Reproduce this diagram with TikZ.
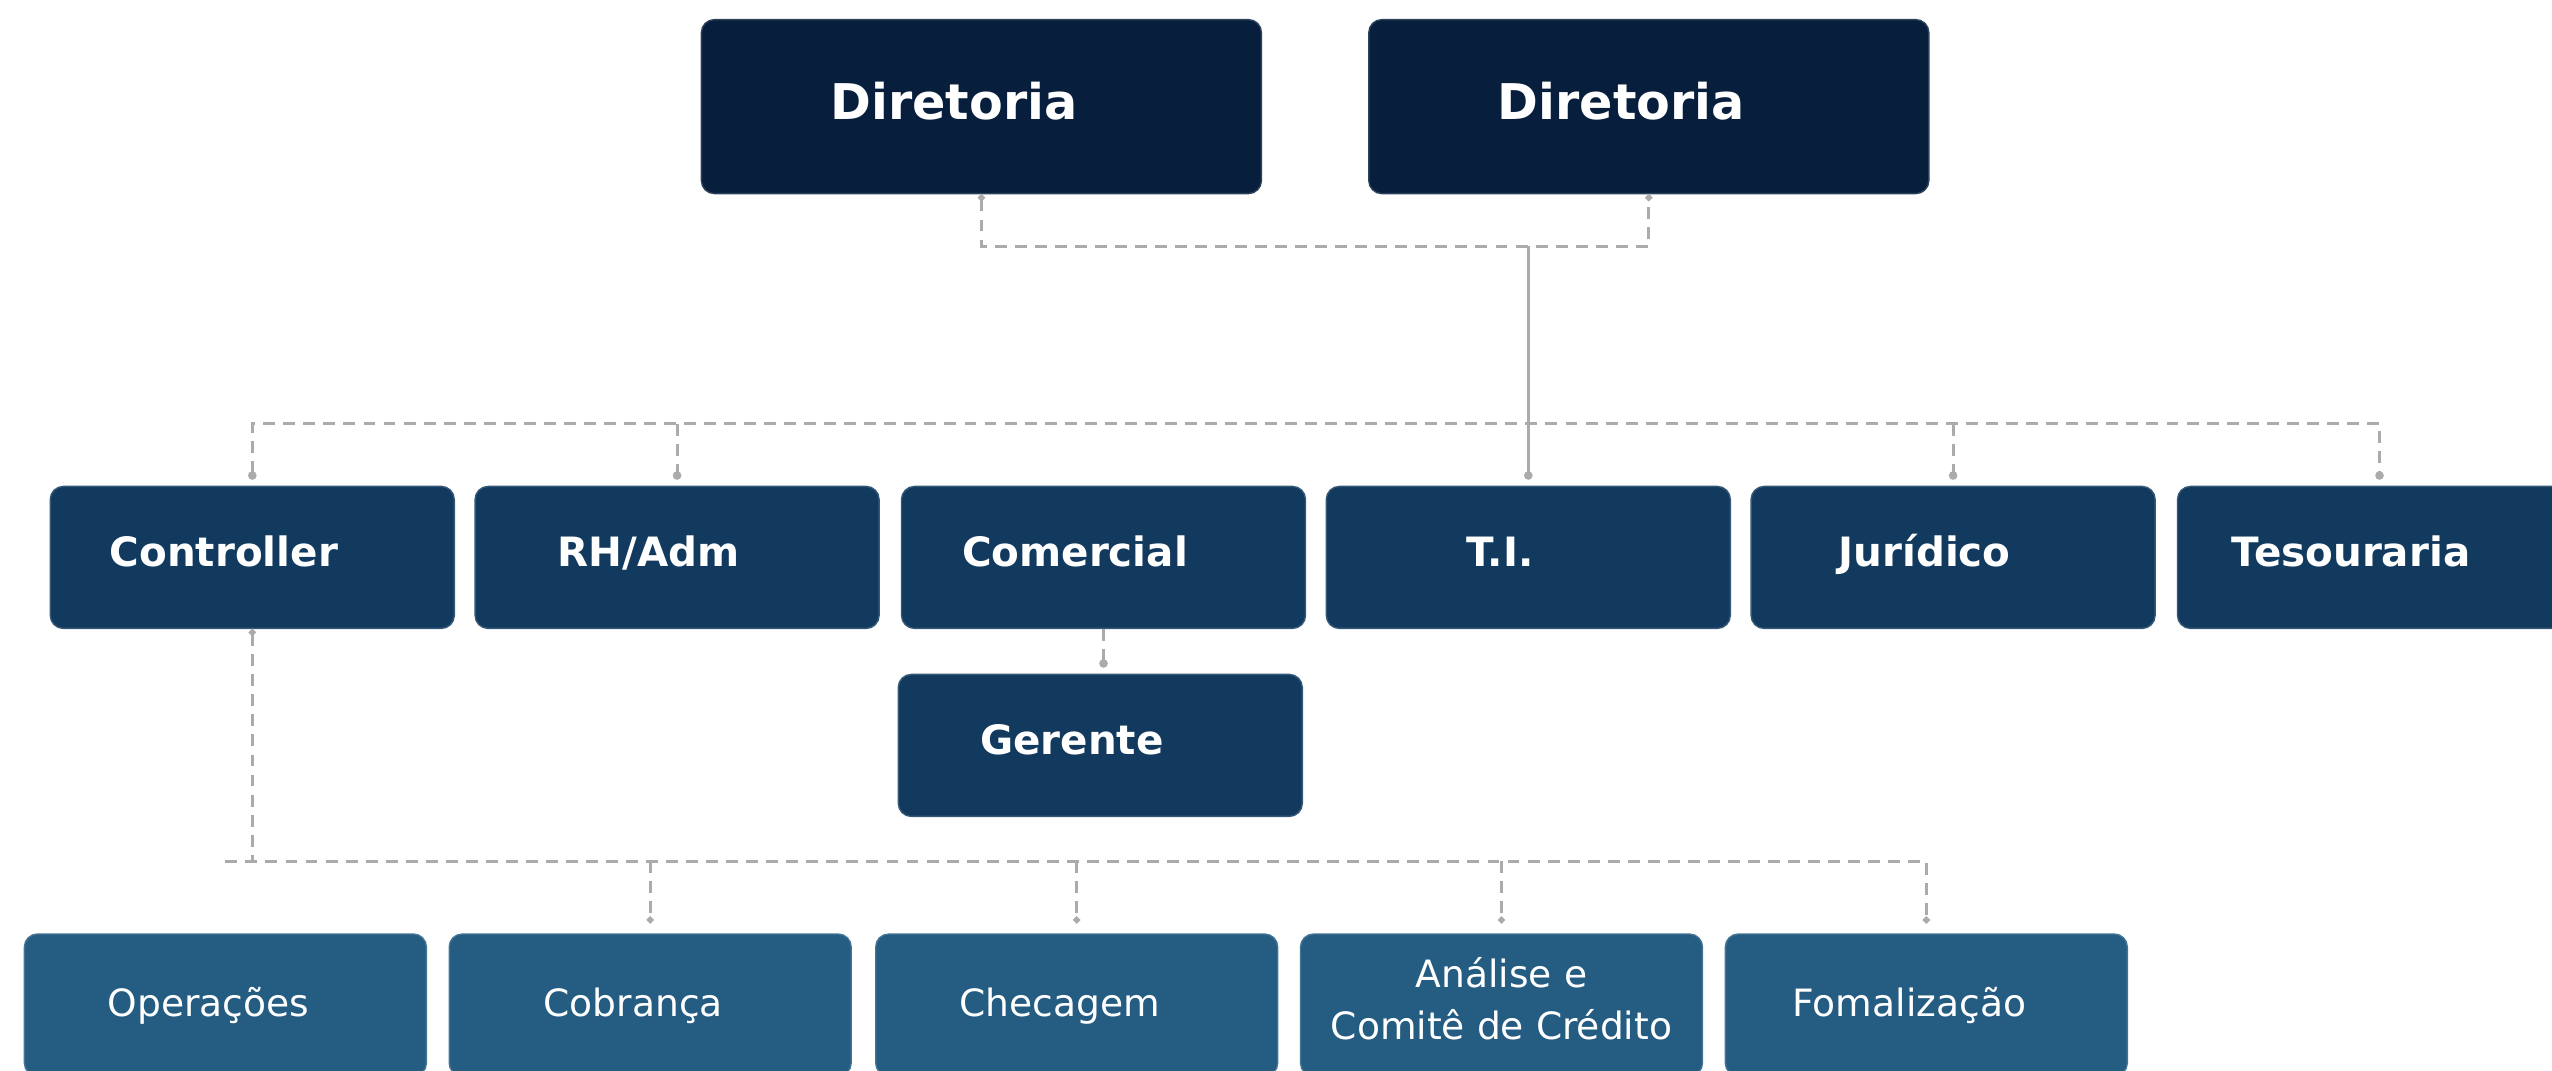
\documentclass[tikz,border=0pt]{standalone}
\usepackage{fontspec}
\setmainfont{DejaVu Sans}
\usetikzlibrary{calc, arrows.meta}
\definecolor{navy}{HTML}{071F3D}
\definecolor{midblue}{HTML}{123A5F}
\definecolor{lowblue}{HTML}{255C82}
\definecolor{wire}{HTML}{ABABAB}

\begin{document}
\begin{tikzpicture}[
  box/.style = {rounded corners = .13cm, inner sep = 0, text = white,
    draw = #1!85!white, line width = .4pt, fill = #1},
  topbox/.style = {box = navy, minimum width = 5.6cm, minimum height = 1.74cm,
    font = \bfseries\fontsize{14}{17}\selectfont, text height = .37cm, text depth = .12cm,
    execute at end node = \hspace*{.55cm}},
  midbox/.style = {box = midblue, minimum width = 4.04cm, minimum height = 1.42cm,
    font = \bfseries\fontsize{11.5}{14}\selectfont, text height = .3cm, text depth = .12cm,
    execute at end node = \hspace*{.57cm}},
  lowbase/.style = {box = lowblue, minimum width = 4.02cm, minimum height = 1.42cm,
    font = \fontsize{10.7}{14.8}\selectfont},
  lowbox/.style = {lowbase, text height = .3cm, text depth = .074cm,
    execute at end node = \hspace*{.34cm}},
  link/.style = {draw = wire, line width = .85pt, dash pattern = on 3.4pt off 2.3pt},
  trunk/.style = {draw = wire, line width = .85pt},
  enddot/.style = {-{Circle[length=2.4pt]}, shorten >= .06cm},
  bothdots/.style = {{Circle[length=2.4pt]}-{Circle[length=2.4pt]}, shorten <= .06cm, shorten >= .06cm},
  smalldot/.style = {-{Circle[length=1.9pt]}, shorten >= .1cm}
]
\useasboundingbox (0, 0) rectangle (25.52, -10.70);

% top
\node at (9.814, -1.066) [name=dir1, topbox] {Diretoria};
\node at (16.488, -1.066) [name=dir2, topbox] {Diretoria};

% departments
\node at (2.523, -5.574) [name=ctrl, midbox] {Controller};
\node at (6.771, -5.574) [name=rh, midbox] {RH/Adm};
\node at (11.035, -5.574) [name=com, midbox] {Comercial};
\node at (15.283, -5.574) [name=ti, midbox] {T.I.};
\node at (19.531, -5.574) [name=jur, midbox] {Jurídico};
\node at (23.795, -5.574) [name=tes, midbox] {Tesouraria};
\node at (11.003, -7.454) [name=ger, midbox] {Gerente};

% operations row
\node at (2.254, -10.05) [name=ops, lowbox] {Operações};
\node at (6.502, -10.05) [name=cob, lowbox] {Cobrança};
\node at (10.767, -10.05) [name=che, lowbox] {Checagem};
\node at (15.015, -10.05) [name=ana, lowbase, align=center, text depth=.13cm] {Análise e\\Comitê de Crédito};
\node at (19.263, -10.05) [name=fom, lowbox] {Fomalização};

% board to T.I.
\draw [link, {Circle[length=1.9pt]}-{Circle[length=1.9pt]}] (dir1.south) -- ++(0, -.52) coordinate (j) -| (dir2.south);
\draw [trunk, enddot] (j -| ti.north) -- (ti.north);

% department bus
\draw [link, bothdots] (ctrl.north) -- ++(0, .62) coordinate (m) -| (tes.north);
\foreach \n in {rh, jur}
  \draw [link, enddot] (m -| \n.north) -- (\n.north);
\draw [link, enddot] (com.south) -- (com.south |- ger.north);

% controller to operations
\draw [link, smalldot] (ops.north) ++(0, .72) coordinate (b) -| (fom.north);
\draw [link, {Circle[length=1.9pt]}-] (ctrl.south) -- (b -| ctrl.south);
\foreach \n in {cob, che, ana}
  \draw [link, smalldot] (b -| \n.north) -- (\n.north);
\end{tikzpicture}
\end{document}
